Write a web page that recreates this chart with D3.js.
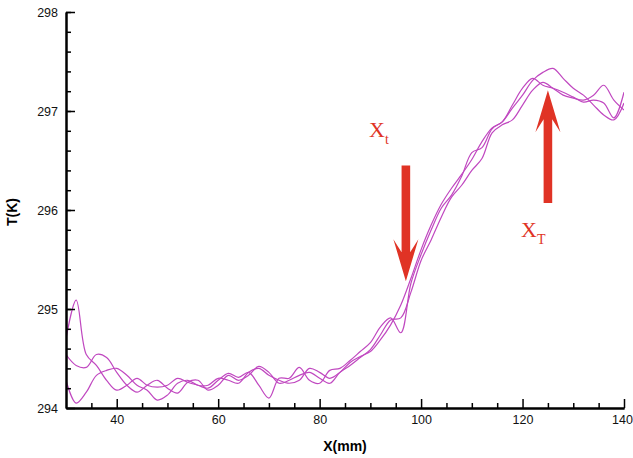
<!DOCTYPE html>
<html><head><meta charset="utf-8">
<script src="https://cdn.jsdelivr.net/npm/d3@7"></script>
<style>body{margin:0;background:#fff}</style>
</head><body>
<svg id="c" width="633" height="458"></svg>
<script>
const xValues = d3.range(30, 141, 2);
const seriesA = [294.70,295.09,294.54,294.43,294.28,294.18,294.23,294.30,294.23,294.21,294.23,294.30,294.26,294.23,294.20,294.28,294.35,294.31,294.36,294.23,294.10,294.30,294.30,294.41,294.28,294.25,294.38,294.40,294.48,294.57,294.66,294.82,294.91,294.76,295.26,295.55,295.80,296.02,296.15,296.34,296.58,296.63,296.82,296.89,297.03,297.16,297.31,297.39,297.43,297.33,297.23,297.16,297.06,296.96,296.91,297.08];
const seriesB = [294.54,294.43,294.41,294.54,294.51,294.36,294.23,294.16,294.23,294.28,294.20,294.15,294.26,294.28,294.18,294.23,294.33,294.28,294.33,294.42,294.36,294.25,294.28,294.33,294.36,294.30,294.25,294.36,294.43,294.51,294.59,294.74,294.89,294.91,295.17,295.49,295.70,295.93,296.13,296.25,296.40,296.52,296.78,296.86,296.91,297.06,297.21,297.29,297.23,297.16,297.13,297.11,297.16,297.26,297.11,297.01];
const seriesC = [294.28,294.05,294.16,294.33,294.38,294.40,294.33,294.23,294.18,294.08,294.13,294.25,294.28,294.23,294.23,294.30,294.28,294.25,294.36,294.40,294.33,294.28,294.25,294.28,294.40,294.36,294.30,294.36,294.46,294.52,294.57,294.69,294.84,295.04,295.31,295.60,295.85,296.06,296.22,296.36,296.51,296.69,296.83,296.89,297.06,297.23,297.33,297.26,297.23,297.19,297.14,297.09,297.11,297.08,296.93,297.19];
const xTicks = [40, 60, 80, 100, 120, 140];
const yTicks = [294, 295, 296, 297, 298];
const arrowDown = {x: 97, from: 296.45, to: 295.28, label: "X", sub: "t"};
const arrowUp = {x: 125, from: 296.07, to: 297.21, label: "X", sub: "T"};

const svg = d3.select("#c");
const x = d3.scaleLinear().domain([30, 140]).range([66, 624]);
const y = d3.scaleLinear().domain([294, 298]).range([408, 12]);

const line = d3.line().x((d,i)=>x(xValues[i])).y(d=>y(d)).curve(d3.curveCatmullRom.alpha(0.5));
const g = svg.append("g");
g.append("defs").append("clipPath").attr("id","clip").append("rect")
  .attr("x",66).attr("y",8).attr("width",558).attr("height",400);
[seriesA, seriesB, seriesC].forEach(s=>{
  g.append("path").attr("d", line(s)).attr("fill","none")
   .attr("stroke","#c048c0").attr("stroke-width",1.2).attr("clip-path","url(#clip)");
});

// axes
const font = "Liberation Sans, Arial, sans-serif";
const xMinor = svg.append("g").attr("transform","translate(0,408)")
  .call(d3.axisBottom(x).tickValues(d3.range(35,140,5).filter(v=>v%20!==0)).tickSize(-5).tickFormat("").tickSizeOuter(0));
const xAx = svg.append("g").attr("transform","translate(0,408)")
  .call(d3.axisBottom(x).tickValues(xTicks).tickSize(-9).tickSizeOuter(0).tickPadding(7).tickFormat(d3.format("d")));
const yMinor = svg.append("g").attr("transform","translate(66,0)")
  .call(d3.axisLeft(y).tickValues(d3.range(294.2,298,0.2)).tickSize(-5).tickFormat("").tickSizeOuter(0));
const yAx = svg.append("g").attr("transform","translate(66,0)")
  .call(d3.axisLeft(y).tickValues(yTicks).tickSize(-9).tickSizeOuter(0).tickPadding(8).tickFormat(d3.format("d")));
[xMinor,xAx,yMinor,yAx].forEach(a=>{
  a.selectAll(".domain").attr("stroke","#000").attr("stroke-width",2);
  a.selectAll(".tick line").attr("stroke","#000").attr("stroke-width",1.5);
  a.selectAll("text").attr("font-family",font).attr("font-size",12.5).attr("fill","#111");
});
xAx.selectAll(".tick text").filter(d=>d===140).attr("dx",-2);

svg.append("text").attr("x",345).attr("y",451).attr("text-anchor","middle")
  .attr("font-family",font).attr("font-weight","bold").attr("font-size",14).text("X(mm)");
svg.append("text").attr("transform","translate(17,212) rotate(-90)").attr("text-anchor","middle")
  .attr("font-family",font).attr("font-weight","bold").attr("font-size",14).text("T(K)");

// arrows
const red = "#e03325";
function arrow(a){
  const cx = x(a.x), y0 = y(a.from), y1 = y(a.to);
  const dir = y1 > y0 ? 1 : -1;
  const hw = 4.3, bw = 12.5, hl = 42, notch = 29;
  const pts = [
    [cx-hw, y0], [cx+hw, y0],
    [cx+hw, y1 - dir*notch], [cx+bw, y1 - dir*hl],
    [cx, y1],
    [cx-bw, y1 - dir*hl], [cx-hw, y1 - dir*notch]
  ];
  svg.append("path").attr("d", d3.line()(pts)+"Z").attr("fill", red);
}
arrow(arrowDown); arrow(arrowUp);

function label(px, py, a){
  const t = svg.append("text").attr("x",px).attr("y",py)
    .attr("font-family","Liberation Serif, Times New Roman, serif").attr("font-size",22).attr("fill",red);
  t.append("tspan").text(a.label);
  t.append("tspan").attr("font-size",14).attr("dy",7).text(a.sub);
}
label(369, 137, arrowDown);
label(521, 237, arrowUp);
</script>
</body></html>
